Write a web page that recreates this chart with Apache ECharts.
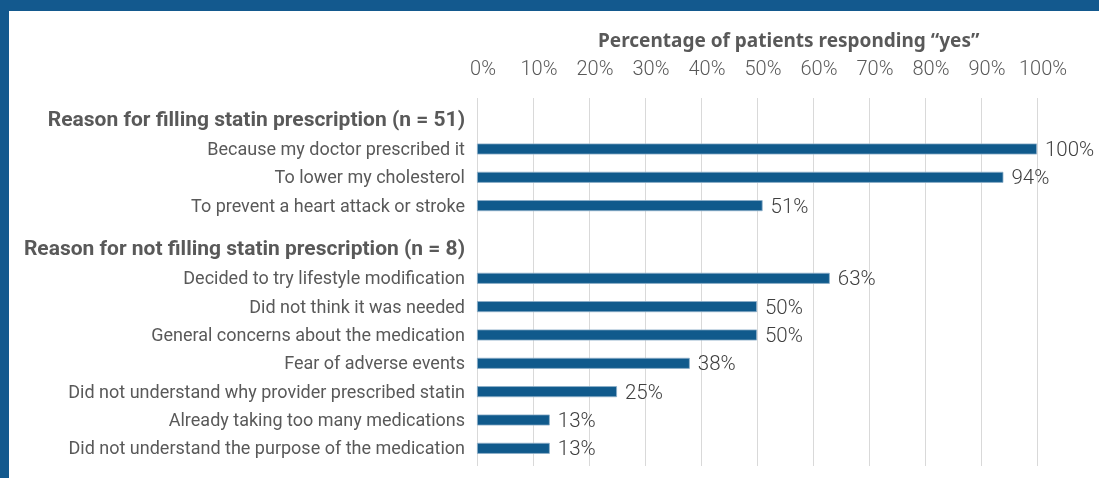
<!DOCTYPE html>
<html>
<head>
<meta charset="utf-8">
<script src="https://cdn.jsdelivr.net/npm/echarts@6/dist/echarts.min.js"></script>
<style>
html,body{margin:0;padding:0;background:#fff;}
#chart{width:1099px;height:478px;}
</style>
</head>
<body>
<div id="chart"></div>
<script>
const axisTitle = 'Percentage of patients responding \u201cyes\u201d';
const tickValues = [0, 0.1, 0.2, 0.3, 0.4, 0.5, 0.6, 0.7, 0.8, 0.9, 1.0];
const header1 = 'Reason for filling statin prescription (n = 51)';
const header2 = 'Reason for not filling statin prescription (n = 8)';
const fillCategories = [
  'Because my doctor prescribed it',
  'To lower my cholesterol',
  'To prevent a heart attack or stroke'
];
const fillValues = [1.00, 0.94, 0.51];
const notFillCategories = [
  'Decided to try lifestyle modification',
  'Did not think it was needed',
  'General concerns about the medication',
  'Fear of adverse events',
  'Did not understand why provider prescribed statin',
  'Already taking too many medications',
  'Did not understand the purpose of the medication'
];
const notFillValues = [0.63, 0.50, 0.50, 0.38, 0.25, 0.13, 0.13];

const BLUE = '#105a8c';
const NUMFONT = "Roboto, sans-serif";
const LBLFONT = "Roboto, sans-serif";

const chart = echarts.init(document.getElementById('chart'));

function catAxis(gridIndex, header, cats, headerPad) {
  return {
    type: 'category', gridIndex: gridIndex, inverse: true,
    data: [header].concat(cats),
    axisLine: {show: false}, axisTick: {show: false}, splitLine: {show: false},
    axisLabel: {
      margin: 12, color: '#595959', fontFamily: LBLFONT, fontSize: 18,
      formatter: function (v) { return v === header ? '{h|' + v + '}' : '{c|' + v + '}'; },
      rich: {
        h: { fontFamily: LBLFONT, fontSize: 21, fontWeight: 'bold', color: '#595959', padding: headerPad },
        c: { fontFamily: LBLFONT, fontSize: 18, color: '#595959', padding: [3, 0, 0, 0] }
      }
    }
  };
}
function hiddenX(gridIndex) {
  return { type: 'value', gridIndex: gridIndex, min: 0, max: 1, show: false };
}
function barSeries(idx, vals) {
  return {
    type: 'bar', xAxisIndex: idx, yAxisIndex: idx,
    data: [null].concat(vals), barWidth: 11,
    itemStyle: { color: BLUE, borderColor: '#8fb0c9', borderWidth: 0.8 },
    label: {
      show: true, position: 'right', distance: 8, offset: [0, 2],
      fontFamily: NUMFONT, fontSize: 20.5, fontWeight: 300, color: '#404040',
      formatter: function (p) { return Math.round(p.value * 100) + '%'; }
    },
    z: 3
  };
}

chart.setOption({
  animation: false,
  title: {
    text: axisTitle, left: 593, top: 27,
    textStyle: { fontFamily: "'Noto Sans', sans-serif", fontSize: 19, fontWeight: 'bold', color: '#595959' }
  },
  graphic: [
    { type: 'rect', shape: { x: 0, y: 0, width: 1099, height: 11 }, style: { fill: '#13598e' }, z: 10 },
    { type: 'rect', shape: { x: 0, y: 0, width: 9, height: 478 }, style: { fill: '#13598e' }, z: 10 }
  ],
  grid: [
    { left: 477, width: 560, top: 98, height: 368 },
    { left: 477, width: 560, top: 106.5, height: 113.3 },
    { left: 477, width: 560, top: 235.8, height: 226.7 }
  ],
  xAxis: [
    {
      type: 'value', gridIndex: 0, position: 'top', min: 0, max: 1, interval: 0.1,
      axisLine: {show: false}, axisTick: {show: false},
      splitLine: { show: true, lineStyle: { color: '#d9d9d9', width: 1 } },
      axisLabel: {
        margin: 18, color: '#595959', fontFamily: NUMFONT, fontSize: 20, fontWeight: 300,
        padding: [0, 0, 0, 12],
        formatter: function (v) {
          return tickValues.some(t => Math.abs(t - v) < 1e-6) ? Math.round(v * 100) + '%' : '';
        }
      }
    },
    hiddenX(1), hiddenX(2)
  ],
  yAxis: [
    { type: 'value', gridIndex: 0, show: false },
    catAxis(1, header1, fillCategories, [0, 0, 0, 0]),
    catAxis(2, header2, notFillCategories, [0, 0, 1, 0])
  ],
  series: [ barSeries(1, fillValues), barSeries(2, notFillValues) ]
});
</script>
</body>
</html>
